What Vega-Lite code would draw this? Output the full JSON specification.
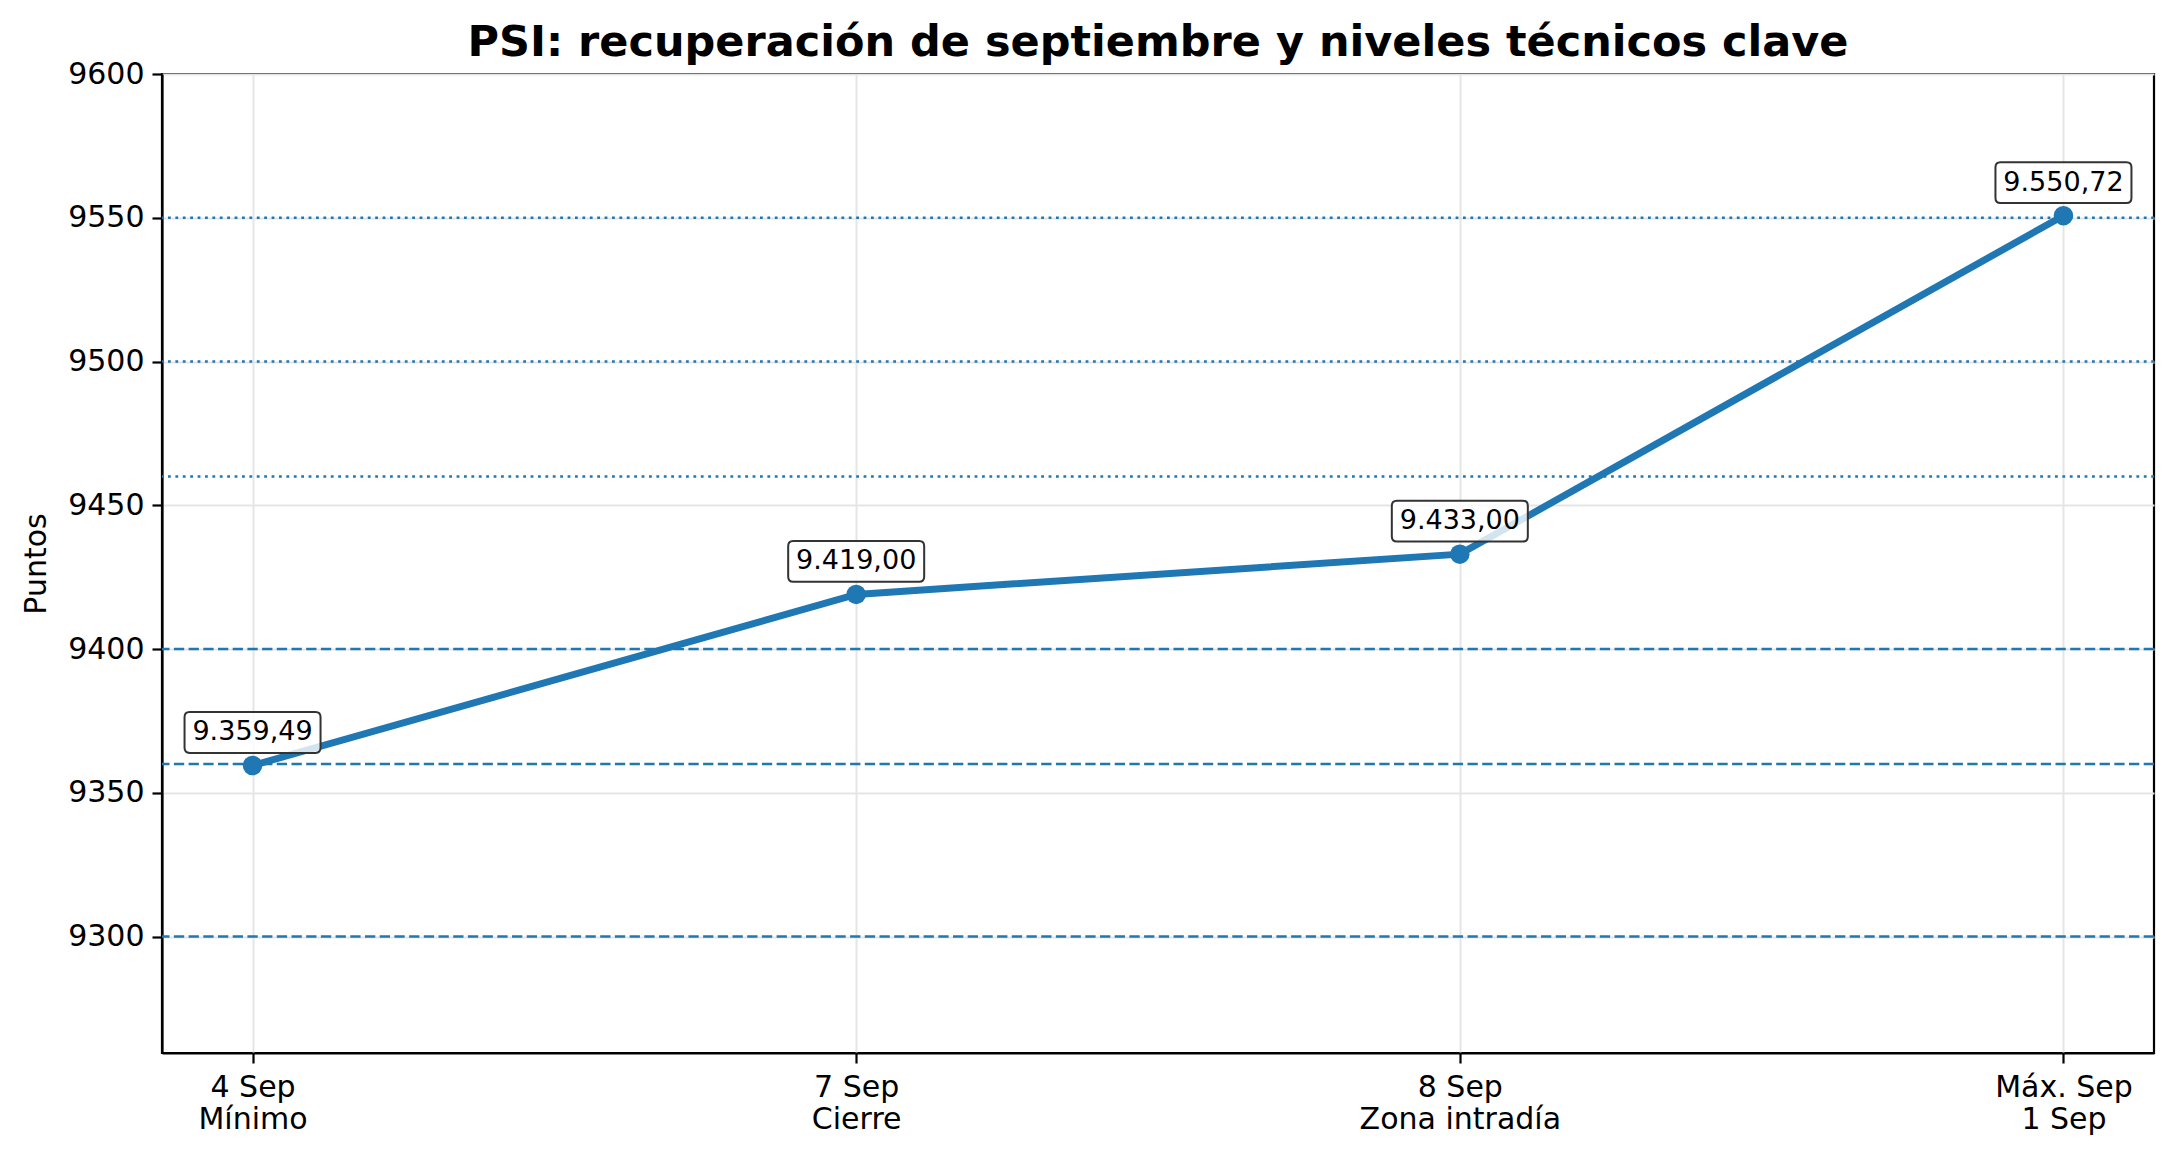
{
  "$schema": "https://vega.github.io/schema/vega-lite/v6.json",
  "autosize": "none",
  "width": 1992,
  "height": 979,
  "padding": {"left": 162, "top": 74, "right": 22, "bottom": 108},
  "background": "white",
  "title": {
    "text": "PSI: recuperación de septiembre y niveles técnicos clave",
    "font": "DejaVu Sans",
    "fontSize": 43,
    "fontWeight": "bold",
    "color": "black",
    "anchor": "middle",
    "offset": -6
  },
  "datasets": {
    "puntos": [
      {"i": 0, "fecha": "4 Sep|Mínimo", "valor": 9359.49, "etiqueta": "9.359,49"},
      {"i": 1, "fecha": "7 Sep|Cierre", "valor": 9419.0, "etiqueta": "9.419,00"},
      {"i": 2, "fecha": "8 Sep|Zona intradía", "valor": 9433.0, "etiqueta": "9.433,00"},
      {"i": 3, "fecha": "Máx. Sep|1 Sep", "valor": 9550.72, "etiqueta": "9.550,72"}
    ],
    "niveles": [
      {"nivel": 9550, "tipo": "resistencia"},
      {"nivel": 9500, "tipo": "resistencia"},
      {"nivel": 9460, "tipo": "resistencia"},
      {"nivel": 9400, "tipo": "soporte"},
      {"nivel": 9360, "tipo": "soporte"},
      {"nivel": 9300, "tipo": "soporte"}
    ]
  },
  "layer": [
    {
      "data": {"name": "niveles"},
      "mark": {"type": "rule", "color": "#1f77b4", "strokeWidth": 2.6},
      "encoding": {
        "y": {"field": "nivel", "type": "quantitative", "scale": {"domain": [9259.49, 9600], "nice": false, "zero": false}},
        "strokeDash": {
          "field": "tipo", "type": "nominal",
          "scale": {"domain": ["resistencia", "soporte"], "range": [[2.8, 4.6], [10.3, 4.4]]},
          "legend": null
        }
      }
    },
    {
      "data": {"name": "puntos"},
      "mark": {"type": "line", "color": "#1f77b4", "strokeWidth": 7},
      "encoding": {
        "x": {
          "field": "i", "type": "quantitative",
          "scale": {"domain": [-0.15, 3.15], "nice": false, "zero": false},
          "axis": {
            "title": null,
            "values": [0, 1, 2, 3],
            "labelExpr": "split(['4 Sep|Mínimo', '7 Sep|Cierre', '8 Sep|Zona intradía', 'Máx. Sep|1 Sep'][datum.value], '|')",
            "labelLineHeight": 32,
            "labelPadding": 9,
            "labelBaseline": "top",
            "labelLimit": 0
          }
        },
        "y": {
          "field": "valor", "type": "quantitative",
          "scale": {"domain": [9259.49, 9600], "nice": false, "zero": false},
          "axis": {
            "title": "Puntos",
            "format": "d",
            "values": [9300, 9350, 9400, 9450, 9500, 9550, 9600],
            "labelPadding": 8,
            "titlePadding": 16
          }
        }
      }
    },
    {
      "data": {"name": "puntos"},
      "mark": {"type": "point", "shape": "circle", "filled": true, "opacity": 1, "color": "#1f77b4", "size": 380},
      "encoding": {
        "x": {"field": "i", "type": "quantitative"},
        "y": {"field": "valor", "type": "quantitative"}
      }
    },
    {
      "data": {"name": "puntos"},
      "mark": {
        "type": "point",
        "shape": "M -0.926,-0.3 L 0.926,-0.3 Q 1,-0.3 1,-0.226 L 1,0.226 Q 1,0.3 0.926,0.3 L -0.926,0.3 Q -1,0.3 -1,0.226 L -1,-0.226 Q -1,-0.3 -0.926,-0.3 Z",
        "size": 18496,
        "filled": true,
        "fill": "white",
        "fillOpacity": 0.8,
        "stroke": "#333333",
        "strokeWidth": 2,
        "strokeOpacity": 1,
        "opacity": 1,
        "yOffset": -33
      },
      "encoding": {
        "x": {"field": "i", "type": "quantitative"},
        "y": {"field": "valor", "type": "quantitative"}
      }
    },
    {
      "data": {"name": "puntos"},
      "mark": {
        "type": "text",
        "font": "DejaVu Sans",
        "fontSize": 27,
        "color": "black",
        "align": "center",
        "baseline": "middle",
        "yOffset": -33
      },
      "encoding": {
        "x": {"field": "i", "type": "quantitative"},
        "y": {"field": "valor", "type": "quantitative"},
        "text": {"field": "etiqueta", "type": "nominal"}
      }
    }
  ],
  "config": {
    "font": "DejaVu Sans",
    "view": {"stroke": "black", "strokeWidth": 2.2},
    "axis": {
      "labelFont": "DejaVu Sans",
      "labelFontSize": 30,
      "labelColor": "black",
      "titleFont": "DejaVu Sans",
      "titleFontSize": 30,
      "titleFontWeight": "normal",
      "titleColor": "black",
      "domainColor": "black",
      "domainWidth": 2.2,
      "tickColor": "black",
      "tickWidth": 2.2,
      "tickSize": 10,
      "grid": true,
      "gridColor": "#e5e5e5",
      "gridWidth": 2
    }
  }
}
